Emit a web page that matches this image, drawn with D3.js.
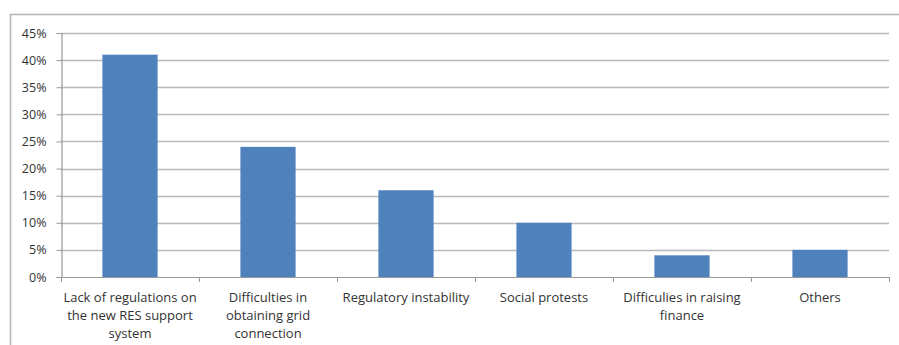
<!DOCTYPE html>
<html>
<head>
<meta charset="utf-8">
<script src="https://cdn.jsdelivr.net/npm/d3@7"></script>
<style>
  html, body { margin: 0; padding: 0; background: #fff; }
  svg { display: block; }
  text { font-family: "Open Sans", "Liberation Sans", sans-serif; fill: #333; }
</style>
</head>
<body>
<svg id="chart" width="899" height="345"></svg>
<script>
// Barriers to RES development, share of responses
const categories = [
  ["Lack of regulations on", "the new RES support", "system"],
  ["Difficulties in", "obtaining grid", "connection"],
  ["Regulatory instability"],
  ["Social protests"],
  ["Difficulies in raising", "finance"],
  ["Others"]
];
const values = [0.41, 0.24, 0.16, 0.10, 0.04, 0.05];
const yTicks = [0, 0.05, 0.10, 0.15, 0.20, 0.25, 0.30, 0.35, 0.40, 0.45];

const svg = d3.select("#chart");
const plot = { left: 61, right: 889, top: 33, bottom: 277 };

// frame: top and left edges
svg.append("line").attr("x1", 10).attr("x2", 899).attr("y1", 14.5).attr("y2", 14.5)
  .attr("stroke", "#b3b3b3").attr("stroke-width", 1.5);
svg.append("line").attr("x1", 10.5).attr("x2", 10.5).attr("y1", 14).attr("y2", 345)
  .attr("stroke", "#b3b3b3").attr("stroke-width", 1.5);

const x = d3.scaleBand().domain(d3.range(categories.length)).range([plot.left, plot.right])
  .paddingInner(0.6).paddingOuter(0.3);
const y = d3.scaleLinear().domain([0, 0.45]).range([plot.bottom, plot.top]);

// gridlines
svg.append("g").selectAll("line").data(yTicks.filter(d => d > 0)).join("line")
  .attr("x1", plot.left).attr("x2", plot.right)
  .attr("y1", d => Math.round(y(d)) + 0.5).attr("y2", d => Math.round(y(d)) + 0.5)
  .attr("stroke", "#b8b8b8").attr("stroke-width", 1.5);

// bars
svg.append("g").selectAll("rect").data(values).join("rect")
  .attr("x", (d, i) => x(i)).attr("width", x.bandwidth())
  .attr("y", d => y(d)).attr("height", d => y(0) - y(d))
  .attr("fill", "#4f81bd");

// y axis
const yAxis = d3.axisLeft(y).tickValues(yTicks).tickFormat(d3.format(".0%"))
  .tickSize(5).tickPadding(10);
const gy = svg.append("g").attr("transform", `translate(${plot.left + 0.5},0)`).call(yAxis);
gy.select(".domain").attr("stroke", "#999").attr("stroke-width", 1.2);
gy.selectAll(".tick line").attr("stroke", "#999");
gy.selectAll(".tick text").attr("font-size", 12.5).attr("fill", "#333")
  .attr("font-family", "'Open Sans', 'Liberation Sans', sans-serif");

// x axis line and ticks at category boundaries
const bounds = d3.range(categories.length + 1)
  .map(i => plot.left + i * (plot.right - plot.left) / categories.length);
svg.append("line").attr("x1", plot.left).attr("x2", plot.right)
  .attr("y1", plot.bottom + 0.5).attr("y2", plot.bottom + 0.5)
  .attr("stroke", "#999").attr("stroke-width", 1.2);
svg.append("g").selectAll("line").data(bounds).join("line")
  .attr("x1", d => d + 0.5).attr("x2", d => d + 0.5)
  .attr("y1", plot.bottom).attr("y2", plot.bottom + 5).attr("stroke", "#999");

// category labels
const lbl = svg.append("g").selectAll("text").data(categories).join("text")
  .attr("text-anchor", "middle").attr("font-size", 13)
  .attr("x", (d, i) => x(i) + x.bandwidth() / 2).attr("y", 302);
lbl.selectAll("tspan").data(d => d).join("tspan")
  .attr("x", function () { return d3.select(this.parentNode).attr("x"); })
  .attr("dy", (d, i) => i === 0 ? 0 : 18)
  .text(d => d);
</script>
</body>
</html>
